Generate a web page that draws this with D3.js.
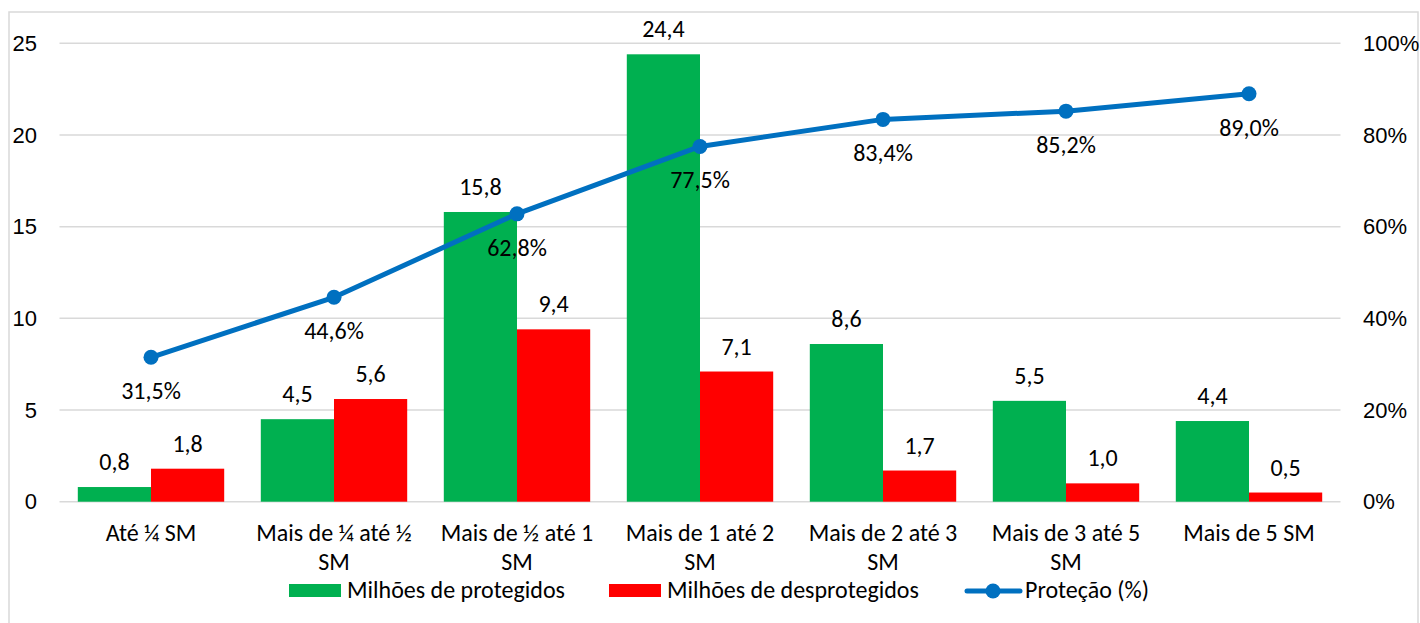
<!DOCTYPE html>
<html>
<head>
<meta charset="utf-8">
<script src="https://cdn.jsdelivr.net/npm/d3@7"></script>
<style>
  body { margin: 0; background: #fff; }
  svg { font-family: Carlito, Lato, "Open Sans", sans-serif; }
</style>
</head>
<body>
<svg></svg>
<script>
const categories = ["Até ¼ SM", "Mais de ¼ até ½ SM", "Mais de ½ até 1 SM", "Mais de 1 até 2 SM",
                    "Mais de 2 até 3 SM", "Mais de 3 até 5 SM", "Mais de 5 SM"];
const protegidos = [0.8, 4.5, 15.8, 24.4, 8.6, 5.5, 4.4];
const desprotegidos = [1.8, 5.6, 9.4, 7.1, 1.7, 1.0, 0.5];
const protecao = [31.5, 44.6, 62.8, 77.5, 83.4, 85.2, 89.0];
const leftTicks = [0, 5, 10, 15, 20, 25];
const rightTicks = [0, 20, 40, 60, 80, 100];

const width = 1420;
const height = 623;
const fontSize = 24;
const axisFontSize = 22;
const svg = d3.select("svg")
              .attr("width", width)
              .attr("height", height);

const fmt = v => v.toFixed(1).replace(".", ",");

// chart border
svg.append("rect")
    .attr("x", 9).attr("y", 12)
    .attr("width", 1409).attr("height", 630)
    .attr("fill", "none")
    .attr("stroke", "#d9d9d9")
    .attr("stroke-width", 1.5);

const x = d3.scaleBand()
            .domain(categories)
            .range([59.5, 1340.5])
            .paddingInner(0.2)
            .paddingOuter(0.1);
const y = d3.scaleLinear().domain([0, 25]).range([501.7, 43.3]);
const y2 = d3.scaleLinear().domain([0, 100]).range([501.7, 43.3]);

// gridlines
svg.append("g").selectAll("line")
    .data(leftTicks)
    .enter()
    .append("line")
      .attr("x1", 59.5).attr("x2", 1340.5)
      .attr("y1", d => y(d)).attr("y2", d => y(d))
      .attr("stroke", "#d9d9d9")
      .attr("stroke-width", 1.5);

// left axis
const leftAxis = svg.append("g")
    .attr("transform", "translate(37,0)")
    .call(d3.axisLeft(y).tickValues(leftTicks).tickSize(0).tickPadding(0));
leftAxis.select(".domain").remove();
leftAxis.selectAll("text").attr("font-size", axisFontSize).attr("fill", "#000").attr("font-family", null);

// right axis
const rightAxis = svg.append("g")
    .attr("transform", "translate(1363,0)")
    .call(d3.axisRight(y2).tickValues(rightTicks).tickFormat(d => d + "%").tickSize(0).tickPadding(0));
rightAxis.select(".domain").remove();
rightAxis.selectAll("text").attr("font-size", axisFontSize).attr("fill", "#000").attr("font-family", null);

const half = x.bandwidth() / 2;

// bars
svg.append("g").selectAll("rect")
    .data(protegidos)
    .enter()
    .append("rect")
      .attr("x", (d, i) => x(categories[i]))
      .attr("y", d => y(d))
      .attr("width", half)
      .attr("height", d => y(0) - y(d))
      .attr("fill", "#00b050");

svg.append("g").selectAll("rect")
    .data(desprotegidos)
    .enter()
    .append("rect")
      .attr("x", (d, i) => x(categories[i]) + half)
      .attr("y", d => y(d))
      .attr("width", half)
      .attr("height", d => y(0) - y(d))
      .attr("fill", "#ff0000");

// bar labels
svg.append("g").selectAll("text")
    .data(protegidos)
    .enter()
    .append("text")
      .attr("x", (d, i) => x(categories[i]) + half / 2)
      .attr("y", d => y(d) - 17)
      .attr("text-anchor", "middle")
      .attr("font-size", fontSize)
      .text(fmt);

svg.append("g").selectAll("text")
    .data(desprotegidos)
    .enter()
    .append("text")
      .attr("x", (d, i) => x(categories[i]) + half * 1.5)
      .attr("y", d => y(d) - 17)
      .attr("text-anchor", "middle")
      .attr("font-size", fontSize)
      .text(fmt);

// line
const cx = (d, i) => x(categories[i]) + half;
const line = d3.line().x(cx).y(d => y2(d));
svg.append("path")
    .datum(protecao)
    .attr("d", line)
    .attr("fill", "none")
    .attr("stroke", "#0070c0")
    .attr("stroke-width", 5)
    .attr("stroke-linejoin", "round");

svg.append("g").selectAll("circle")
    .data(protecao)
    .enter()
    .append("circle")
      .attr("cx", cx)
      .attr("cy", d => y2(d))
      .attr("r", 7.5)
      .attr("fill", "#0070c0");

svg.append("g").selectAll("text")
    .data(protecao)
    .enter()
    .append("text")
      .attr("x", cx)
      .attr("y", d => y2(d) + 42)
      .attr("text-anchor", "middle")
      .attr("font-size", fontSize)
      .text(d => fmt(d) + "%");

// category labels (wrap like the original)
const wrapLines = ["Até ¼ SM|", "Mais de ¼ até ½|SM", "Mais de ½ até 1|SM", "Mais de 1 até 2|SM",
                   "Mais de 2 até 3|SM", "Mais de 3 até 5|SM", "Mais de 5 SM|"];
const catText = svg.append("g").selectAll("text")
    .data(categories)
    .enter()
    .append("text")
      .attr("x", d => x(d) + half)
      .attr("y", 541)
      .attr("text-anchor", "middle")
      .attr("font-size", fontSize);
catText.each(function(d, i) {
  const parts = wrapLines[i].split("|").filter(p => p);
  parts.forEach((p, j) => {
    d3.select(this).append("tspan")
        .attr("x", x(d) + half)
        .attr("dy", j === 0 ? 0 : 29)
        .text(p);
  });
});

// legend
const legend = svg.append("g");
legend.append("rect").attr("x", 289).attr("y", 584).attr("width", 52).attr("height", 13).attr("fill", "#00b050");
legend.append("text").attr("x", 347).attr("y", 598).attr("font-size", fontSize).text("Milhões de protegidos");
legend.append("rect").attr("x", 609).attr("y", 584).attr("width", 52).attr("height", 13).attr("fill", "#ff0000");
legend.append("text").attr("x", 667).attr("y", 598).attr("font-size", fontSize).text("Milhões de desprotegidos");
legend.append("line").attr("x1", 967).attr("x2", 1020).attr("y1", 591).attr("y2", 591)
    .attr("stroke", "#0070c0").attr("stroke-width", 5).attr("stroke-linecap", "round");
legend.append("circle").attr("cx", 993).attr("cy", 591).attr("r", 7.5).attr("fill", "#0070c0");
legend.append("text").attr("x", 1025).attr("y", 598).attr("font-size", fontSize).text("Proteção (%)");
</script>
</body>
</html>
